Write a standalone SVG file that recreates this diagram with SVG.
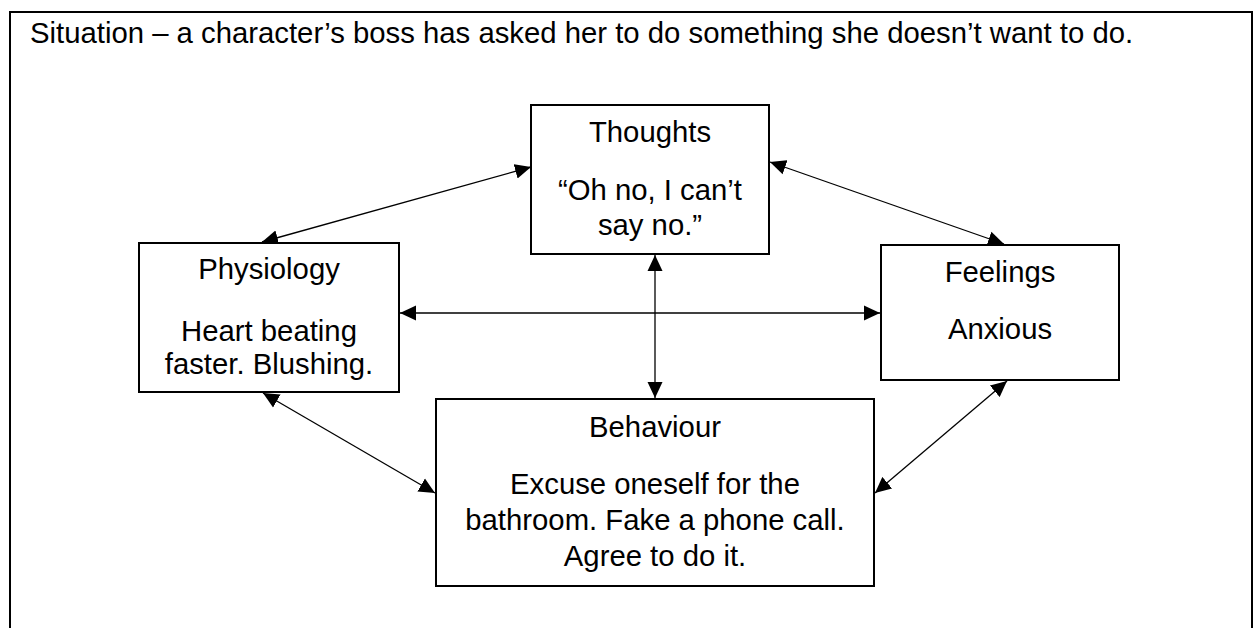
<svg xmlns="http://www.w3.org/2000/svg" width="1258" height="628" viewBox="0 0 1258 628">
<style>
.box{fill:#fff;stroke:#000;stroke-width:2}
.t{font-family:"Liberation Sans",Arial,sans-serif;font-size:29.3px;fill:#000;text-anchor:middle}
.title{font-family:"Liberation Sans",Arial,sans-serif;font-size:29.3px;fill:#000}
.c{stroke:#000;stroke-width:1.3;fill:none;marker-start:url(#ah);marker-end:url(#ah)}
</style>
<defs>
<marker id="ah" markerUnits="userSpaceOnUse" markerWidth="17" markerHeight="16" refX="16" refY="7.5" orient="auto-start-reverse" viewBox="0 0 17 15">
<path d="M0,0 L16,7.5 L0,15 z" fill="#000"/>
</marker>
</defs>
<rect x="0" y="0" width="1258" height="628" fill="#fff"/>
<rect id="frame" x="10" y="12" width="1242" height="640" fill="none" stroke="#000" stroke-width="2"/>
<text class="title" x="30" y="43">Situation – a character’s boss has asked her to do something she doesn’t want to do.</text>
<g id="connectors">
<line class="c" x1="262" y1="242" x2="531" y2="167"/>
<line class="c" x1="770" y1="162" x2="1004" y2="244"/>
<line class="c" x1="400" y1="313" x2="880" y2="313"/>
<line class="c" x1="655" y1="255" x2="655" y2="398"/>
<line class="c" x1="263" y1="393" x2="435" y2="493"/>
<line class="c" x1="1007" y1="381" x2="875" y2="493"/>
</g>
<g id="thoughts">
<rect class="box" x="531" y="105" width="238" height="149"/>
<text class="t" x="650" y="142">Thoughts</text>
<text class="t" x="650" y="200">“Oh no, I can’t</text>
<text class="t" x="650" y="235">say no.”</text>
</g>
<g id="physiology">
<rect class="box" x="139" y="243" width="260" height="149"/>
<text class="t" x="269" y="279">Physiology</text>
<text class="t" x="269" y="341">Heart beating</text>
<text class="t" x="269" y="374">faster. Blushing.</text>
</g>
<g id="feelings">
<rect class="box" x="881" y="245" width="238" height="135"/>
<text class="t" x="1000" y="282">Feelings</text>
<text class="t" x="1000" y="339">Anxious</text>
</g>
<g id="behaviour">
<rect class="box" x="436" y="399" width="438" height="187"/>
<text class="t" x="655" y="437">Behaviour</text>
<text class="t" x="655" y="494">Excuse oneself for the</text>
<text class="t" x="655" y="530">bathroom. Fake a phone call.</text>
<text class="t" x="655" y="566">Agree to do it.</text>
</g>
</svg>
